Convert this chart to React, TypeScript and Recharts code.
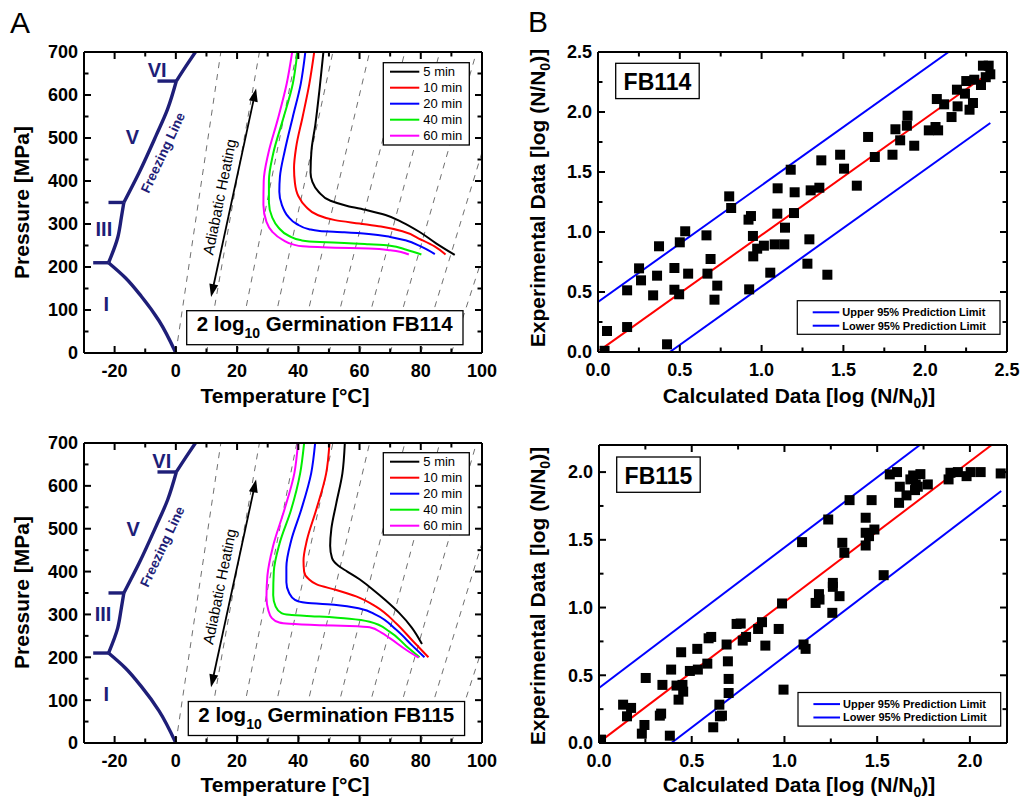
import React from 'react';
import { ComposedChart, Line, Scatter, XAxis, YAxis, ReferenceLine } from 'recharts';

const FONT = "'Liberation Sans', Arial, Helvetica, sans-serif";
const PAGE_W = 1021;
const PAGE_H = 799;
const NAVY = '#1e1e78';

type Pair = [number, number];
const toXY = (a: Pair[]) => a.map(([x, y]) => ({ x, y }));

// ---------------- Panel A (phase diagram) ----------------
const tempMajorTicks = [-20, 0, 20, 40, 60, 80, 100];
const tempMinorTicks = [-30, -10, 10, 30, 50, 70, 90];
const pressureMajorTicks = [0, 100, 200, 300, 400, 500, 600, 700];
const pressureMinorTicks = [50, 150, 250, 350, 450, 550, 650];

const holdTimes = ['5 min', '10 min', '20 min', '40 min', '60 min'];
const holdColors = ['#000000', '#ff0000', '#0000ff', '#00ee00', '#ff00ff'];

// FB114 isorate curves (temperature °C, pressure MPa)
const fb114_5min: Pair[] = [[48.2, 700], [46.9, 611], [45.6, 533], [44.3, 471], [44.0, 420], [44.6, 398], [46.6, 375], [50.5, 354], [56, 342], [62.5, 332], [68.5, 321], [74, 304], [79.5, 282], [85, 255], [91.1, 228]];
const fb114_10min: Pair[] = [[45.2, 700], [43.6, 626], [41.4, 549], [39.3, 479], [38.6, 430], [38.9, 395], [40, 365], [42.5, 340], [46, 322], [52, 309], [60, 301], [67, 294], [74, 283], [80, 264], [84.5, 248], [88.1, 229]];
const fb114_20min: Pair[] = [[42.3, 700], [40.8, 626], [38.2, 549], [35.6, 471], [34.0, 410], [33.8, 375], [34.6, 345], [36.6, 318], [39.5, 300], [43.5, 288], [47, 284], [55, 281], [63, 277], [70, 270], [75, 262], [80, 248], [84.6, 230]];
const fb114_40min: Pair[] = [[39.7, 700], [38.2, 626], [34.9, 541], [31.8, 464], [30.4, 400], [30.4, 350], [31.5, 315], [33.5, 292], [37, 272], [41, 262], [47, 258], [55, 256], [63, 253], [69.5, 250], [75.3, 240], [80.2, 229]];
const fb114_60min: Pair[] = [[38.0, 700], [36.2, 626], [33.2, 541], [30.2, 464], [28.7, 400], [28.6, 345], [29.6, 305], [31.5, 282], [34.9, 263], [38.5, 252], [41.4, 248], [52, 245], [63, 243], [70, 239], [76.1, 229]];

// FB115 isorate curves
const fb115_5min: Pair[] = [[55.2, 700], [54.4, 629], [52.4, 559], [50.8, 500], [50.4, 460], [51, 432], [53, 414], [56, 400], [60, 382], [64, 360], [68.5, 333], [73, 303], [77, 270], [80.4, 231]];
const fb115_10min: Pair[] = [[50.2, 700], [49.1, 629], [45.8, 543], [42.8, 473], [41.7, 425], [41.9, 400], [43.3, 383], [46, 370], [52.4, 357], [58.9, 342], [65.4, 318], [72, 279], [77.4, 238], [82.5, 200]];
const fb115_20min: Pair[] = [[45.5, 700], [44.2, 629], [40.9, 543], [37.7, 473], [36.1, 410], [36.1, 375], [37, 350], [38.9, 334], [42.5, 327], [52.4, 322], [60, 314], [65.4, 299], [72, 264], [77.4, 226], [81.2, 200]];
const fb115_40min: Pair[] = [[41.9, 700], [40.6, 629], [37.6, 543], [33.9, 466], [32, 400], [31.8, 345], [32.6, 318], [34.5, 303], [37.1, 299], [46.9, 295], [56.7, 290], [63.3, 283], [69.8, 260], [75.3, 226], [79.6, 200]];
const fb115_60min: Pair[] = [[39.9, 700], [38.7, 629], [35.4, 543], [31.7, 458], [29.9, 390], [29.6, 340], [30.2, 310], [31.3, 292], [33.8, 281], [37.1, 278], [46.9, 275], [56.7, 273], [63.3, 270], [67, 258], [70, 244], [75.3, 217], [79.3, 199]];

const fb114Curves = [fb114_5min, fb114_10min, fb114_20min, fb114_40min, fb114_60min];
const fb115Curves = [fb115_5min, fb115_10min, fb115_20min, fb115_40min, fb115_60min];

// adiabatic (dashed) lines: start temperature at 0 MPa, temperature reached at 700 MPa
const adiabatStartTemps = [0, 10, 20, 30, 40, 50, 60, 70, 80, 90];
const adiabatTopTemps = [14.7, 27.3, 39.5, 51.3, 63.3, 74.8, 86.2, 98.2, 110, 122];
const adiabatTopPressure = 700;

// freezing line segments
const iceI: Pair[] = [[0, 0], [-5.5, 75], [-11.3, 132], [-16.5, 175], [-21.985, 209.9]];
const iceIII: Pair[] = [[-21.985, 209.9], [-19, 268], [-17.8, 315], [-16.986, 350.1]];
const iceV: Pair[] = [[-16.986, 350.1], [-11.9, 421], [-6.5, 505], [-2.7, 567], [0.16, 632.4]];
const iceVI: Pair[] = [[0.16, 632.4], [3.3, 667], [6.4, 700]];
const triplePointTicks: Pair[][] = [
  [[-27, 209.9], [-21.985, 209.9]],
  [[-22, 350.1], [-16.986, 350.1]],
  [[-6, 632.4], [0.16, 632.4]],
];

const phaseNames = ['VI', 'V', 'III', 'I'];
const phaseLabelTempsTop = [-6.1, -14.2, -23.5, -22.7];
const phaseLabelPressTop = [657, 502, 289, 113];
const phaseLabelTempsBottom = [-4.6, -13.9, -23.8, -22.7];
const phaseLabelPressBottom = [658, 500, 300, 115];

const freezingLabelTop: Pair = [-4.2, 466];
const freezingLabelBottom: Pair = [-4.4, 458];
const adiabatLabelTop: Pair = [14.2, 363];
const adiabatLabelBottom: Pair = [14.2, 365];
const arrowEnds: Pair[] = [[11.5, 130], [26.2, 615]];

// ---------------- Panel B (calculated vs experimental) ----------------
const logMajorTicks114 = [0, 0.5, 1, 1.5, 2, 2.5];
const logMinorTicks114 = [0.25, 0.75, 1.25, 1.75, 2.25];
const logMajorTicks115 = [0, 0.5, 1, 1.5, 2];
const logMinorTicks115 = [0.25, 0.75, 1.25, 1.75];

const fb114Points: Pair[] = [[0.055, 0.175], [0.04, 0.01], [0.178, 0.208], [0.178, 0.514], [0.251, 0.697], [0.263, 0.597], [0.337, 0.472], [0.361, 0.636], [0.373, 0.881], [0.422, 0.064], [0.467, 0.7], [0.467, 0.519], [0.496, 0.481], [0.5, 0.914], [0.533, 1.006], [0.551, 0.653], [0.663, 0.972], [0.669, 0.653], [0.688, 0.775], [0.712, 0.436], [0.729, 0.553], [0.802, 1.297], [0.814, 1.2], [0.92, 1.103], [0.935, 1.133], [0.924, 0.522], [0.947, 0.967], [0.949, 0.797], [0.973, 0.861], [1.014, 0.886], [1.053, 0.661], [1.08, 0.897], [1.098, 1.364], [1.096, 1.153], [1.139, 0.897], [1.143, 1.036], [1.178, 1.519], [1.202, 1.331], [1.198, 1.158], [1.28, 0.736], [1.292, 0.939], [1.3, 1.347], [1.353, 1.369], [1.365, 1.597], [1.402, 0.644], [1.48, 1.644], [1.504, 1.528], [1.582, 1.386], [1.651, 1.792], [1.692, 1.625], [1.8, 1.644], [1.818, 1.856], [1.847, 1.764], [1.888, 1.886], [1.892, 1.969], [1.933, 1.719], [2.022, 1.847], [2.063, 1.875], [2.071, 2.108], [2.079, 1.847], [2.116, 2.064], [2.161, 1.958], [2.194, 2.186], [2.198, 2.047], [2.251, 2.258], [2.243, 2.153], [2.271, 2.019], [2.292, 2.075], [2.3, 2.269], [2.341, 2.225], [2.353, 2.386], [2.388, 2.386], [2.398, 2.314], [2.37, 2.29]];
const fb114Fit: Pair[] = [[0.01, 0.014], [2.398, 2.333]];
const fb114Upper: Pair[] = [[0, 0.417], [2.143, 2.5]];
const fb114Lower: Pair[] = [[0.439, 0], [2.398, 1.908]];

const fb115Points: Pair[] = [[0.011, 0.025], [0.13, 0.283], [0.173, 0.259], [0.151, 0.197], [0.231, 0.069], [0.245, 0.133], [0.252, 0.48], [0.328, 0.202], [0.335, 0.217], [0.342, 0.429], [0.382, 0.054], [0.389, 0.542], [0.418, 0.424], [0.443, 0.67], [0.429, 0.32], [0.45, 0.429], [0.454, 0.379], [0.49, 0.532], [0.53, 0.695], [0.533, 0.542], [0.584, 0.586], [0.591, 0.773], [0.605, 0.783], [0.616, 0.116], [0.649, 0.283], [0.652, 0.197], [0.663, 0.202], [0.688, 0.727], [0.695, 0.603], [0.699, 0.473], [0.699, 0.369], [0.742, 0.879], [0.764, 0.882], [0.775, 0.756], [0.793, 0.783], [0.858, 0.842], [0.879, 0.892], [0.897, 0.719], [0.969, 0.842], [0.987, 1.03], [0.995, 0.394], [1.095, 1.483], [1.103, 0.727], [1.114, 0.695], [1.168, 1.034], [1.186, 1.099], [1.189, 1.059], [1.236, 1.65], [1.258, 0.961], [1.261, 1.182], [1.261, 1.153], [1.297, 1.084], [1.312, 1.478], [1.323, 1.404], [1.351, 1.793], [1.438, 1.663], [1.438, 1.552], [1.438, 1.458], [1.456, 1.527], [1.47, 1.793], [1.485, 1.576], [1.535, 1.239], [1.568, 1.983], [1.607, 2.0], [1.622, 1.892], [1.618, 1.773], [1.658, 1.828], [1.679, 1.946], [1.694, 1.975], [1.704, 1.867], [1.708, 1.909], [1.719, 1.892], [1.733, 1.985], [1.773, 1.909], [1.885, 1.946], [1.895, 1.995], [1.935, 2.0], [1.982, 1.97], [2.004, 2.0], [2.058, 2.0], [2.166, 1.99]];
const fb115Fit: Pair[] = [[0.007, 0.012], [2.117, 2.2]];
const fb115Upper: Pair[] = [[0, 0.406], [1.73, 2.2]];
const fb115Lower: Pair[] = [[0.39, 0], [2.169, 1.86]];

const limitNames = ['Upper 95% Prediction Limit', 'Lower 95% Prediction Limit'];
const limitColor = '#0000ff';
const fitColor = '#ff0000';

// ---------------- layout ----------------
type Rect = { left: number; top: number; right: number; bottom: number };
const PLOT_A1: Rect = { left: 84, top: 52, right: 482, bottom: 353 };
const PLOT_A2: Rect = { left: 84, top: 443, right: 482, bottom: 743 };
const PLOT_B1: Rect = { left: 598, top: 52, right: 1007, bottom: 352 };
const PLOT_B2: Rect = { left: 599, top: 445, right: 1007, bottom: 743 };

const MAJOR_LEN = 7;
const MINOR_LEN = 4.5;

const makeLabelTick = (side: 'bottom' | 'left', fmt: (v: number) => string) => (props: any) => {
  const x = Number(props.x);
  const y = Number(props.y);
  const v = Number(props.payload?.value);
  if (side === 'bottom') {
    return (
      <text x={x} y={y + 24} textAnchor="middle" fontFamily={FONT} fontWeight="bold" fontSize={18} fill="#000">
        {fmt(v)}
      </text>
    );
  }
  return (
    <text x={x - 6} y={y + 6.4} textAnchor="end" fontFamily={FONT} fontWeight="bold" fontSize={18} fill="#000">
      {fmt(v)}
    </text>
  );
};

const axisLine = { stroke: '#000', strokeWidth: 2 };

const chartMargin = (p: Rect) => ({
  top: p.top - 1,
  left: p.left - 1,
  right: PAGE_W - p.right - 1,
  bottom: PAGE_H - p.bottom - 1,
});

function renderAxes(xDomain: [number, number], yDomain: [number, number], xMaj: number[], yMaj: number[], xFmt: (v: number) => string, yFmt: (v: number) => string) {
  return [
    <XAxis key="xb" xAxisId={0} orientation="bottom" type="number" dataKey="x" domain={xDomain} allowDataOverflow ticks={xMaj} interval={0} tickSize={0} tickMargin={0} height={1} axisLine={axisLine} tickLine={false} tick={makeLabelTick('bottom', xFmt)} />,
    <XAxis key="xt" xAxisId="top" orientation="top" type="number" domain={xDomain} allowDataOverflow ticks={xMaj} interval={0} tickSize={0} tickMargin={0} height={1} axisLine={axisLine} tickLine={false} tick={false} />,
    <YAxis key="yl" yAxisId={0} orientation="left" type="number" dataKey="y" domain={yDomain} allowDataOverflow ticks={yMaj} interval={0} tickSize={0} tickMargin={0} width={1} axisLine={axisLine} tickLine={false} tick={makeLabelTick('left', yFmt)} />,
    <YAxis key="yr" yAxisId="right" orientation="right" type="number" domain={yDomain} allowDataOverflow ticks={yMaj} interval={0} tickSize={0} tickMargin={0} width={1} axisLine={axisLine} tickLine={false} tick={false} />,
  ];
}

const ArrowShape = (props: any) => {
  const x1 = Number(props.x1), y1 = Number(props.y1), x2 = Number(props.x2), y2 = Number(props.y2);
  const dx = x2 - x1, dy = y2 - y1;
  const L = Math.hypot(dx, dy) || 1;
  const ux = dx / L, uy = dy / L;
  const px = -uy, py = ux;
  const hl = 13, hw = 4.5;
  const head = (tx: number, ty: number, dir: number) => {
    const bx = tx - dir * ux * hl, by = ty - dir * uy * hl;
    return `${tx},${ty} ${bx + px * hw},${by + py * hw} ${bx - px * hw},${by - py * hw}`;
  };
  return (
    <g>
      <line x1={x1 + ux * 8} y1={y1 + uy * 8} x2={x2 - ux * 8} y2={y2 - uy * 8} stroke="#000" strokeWidth={1.8} />
      <polygon points={head(x1, y1, -1)} fill="#000" />
      <polygon points={head(x2, y2, 1)} fill="#000" />
    </g>
  );
};

const rotatedText = (text: string, angle: number, size: number, color: string, weight: string) => (props: any) => {
  const cx = Number(props.cx), cy = Number(props.cy);
  return (
    <text x={cx} y={cy} transform={`rotate(${angle} ${cx} ${cy})`} textAnchor="middle" dominantBaseline="central" fontFamily={FONT} fontSize={size} fontWeight={weight} fill={color}>
      {text}
    </text>
  );
};

const PhaseLabelShape = (props: any) => {
  const cx = Number(props.cx), cy = Number(props.cy);
  const t = props.payload?.text ?? props.text;
  return (
    <text x={cx} y={cy} textAnchor="middle" dominantBaseline="central" fontFamily={FONT} fontSize={20} fontWeight="bold" fill={NAVY}>
      {t}
    </text>
  );
};

function PhasePanel({ plot, curves, labelTemps, labelPress, freezing, adiabat }: { plot: Rect; curves: Pair[][]; labelTemps: number[]; labelPress: number[]; freezing: Pair; adiabat: Pair }) {
  const labels = phaseNames.map((text, i) => ({ x: labelTemps[i], y: labelPress[i], text }));
  return (
    <div style={{ position: 'absolute', left: 0, top: 0 }}>
      <ComposedChart width={PAGE_W} height={PAGE_H} margin={chartMargin(plot)}>
        {renderAxes([-30, 100], [0, 700], tempMajorTicks, pressureMajorTicks, (v) => String(v), (v) => String(v))}
        {adiabatStartTemps.map((t0, i) => (
          <Line key={`ad${i}`} data={[{ x: t0, y: 0 }, { x: adiabatTopTemps[i], y: adiabatTopPressure }]} dataKey="y" type="linear" stroke="#707070" strokeWidth={1} strokeDasharray="6 6" dot={false} isAnimationActive={false} />
        ))}
        {[iceI, iceIII, iceV, iceVI].map((seg, i) => (
          <Line key={`ice${i}`} data={toXY(seg)} dataKey="y" type="monotoneY" stroke={NAVY} strokeWidth={3.4} dot={false} isAnimationActive={false} />
        ))}
        {triplePointTicks.map((seg, i) => (
          <Line key={`tp${i}`} data={toXY(seg)} dataKey="y" type="linear" stroke={NAVY} strokeWidth={3.4} dot={false} isAnimationActive={false} />
        ))}
        {curves.map((c, i) => (
          <Line key={`c${i}`} name={holdTimes[i]} data={toXY(c)} dataKey="y" type="monotoneY" stroke={holdColors[i]} strokeWidth={2} dot={false} isAnimationActive={false} />
        ))}
        <Scatter data={labels} shape={PhaseLabelShape} isAnimationActive={false} />
        <Scatter data={[{ x: freezing[0], y: freezing[1] }]} shape={rotatedText('Freezing Line', -65, 13.5, NAVY, 'bold')} isAnimationActive={false} />
        <Scatter data={[{ x: adiabat[0], y: adiabat[1] }]} shape={rotatedText('Adiabatic Heating', -78.5, 15, '#000', 'normal')} isAnimationActive={false} />
        <ReferenceLine segment={[{ x: arrowEnds[0][0], y: arrowEnds[0][1] }, { x: arrowEnds[1][0], y: arrowEnds[1][1] }]} ifOverflow="visible" shape={ArrowShape} />
      </ComposedChart>
    </div>
  );
}

const SquareShape = (props: any) => {
  const cx = Number(props.cx), cy = Number(props.cy);
  return <rect x={cx - 5} y={cy - 5} width={10} height={10} fill="#000" />;
};

function FitPanel({ plot, max, xMaj, points, fit, upper, lower }: { plot: Rect; max: number; xMaj: number[]; points: Pair[]; fit: Pair[]; upper: Pair[]; lower: Pair[] }) {
  const f = (v: number) => v.toFixed(1);
  return (
    <div style={{ position: 'absolute', left: 0, top: 0 }}>
      <ComposedChart width={PAGE_W} height={PAGE_H} margin={chartMargin(plot)}>
        {renderAxes([0, max], [0, max], xMaj, xMaj, f, f)}
        <Line data={toXY(upper)} dataKey="y" type="linear" stroke={limitColor} strokeWidth={2} dot={false} isAnimationActive={false} />
        <Line data={toXY(lower)} dataKey="y" type="linear" stroke={limitColor} strokeWidth={2} dot={false} isAnimationActive={false} />
        <Line data={toXY(fit)} dataKey="y" type="linear" stroke={fitColor} strokeWidth={2} dot={false} isAnimationActive={false} />
        <Scatter data={toXY(points)} shape={SquareShape} isAnimationActive={false} />
      </ComposedChart>
    </div>
  );
}

// inward tick marks on all four frame edges (same linear mapping as the chart's plot area)
function FrameTicks({ plot, xDom, yDom, xMaj, xMin, yMaj, yMin }: { plot: Rect; xDom: [number, number]; yDom: [number, number]; xMaj: number[]; xMin: number[]; yMaj: number[]; yMin: number[] }) {
  const sx = (v: number) => plot.left + ((v - xDom[0]) / (xDom[1] - xDom[0])) * (plot.right - plot.left);
  const sy = (v: number) => plot.bottom - ((v - yDom[0]) / (yDom[1] - yDom[0])) * (plot.bottom - plot.top);
  const els: React.ReactNode[] = [];
  const addX = (vals: number[], len: number, tag: string) => vals.forEach((v) => {
    const x = sx(v);
    els.push(<line key={`${tag}b${v}`} x1={x} x2={x} y1={plot.bottom} y2={plot.bottom - len} stroke="#000" strokeWidth={2} />);
    els.push(<line key={`${tag}t${v}`} x1={x} x2={x} y1={plot.top} y2={plot.top + len} stroke="#000" strokeWidth={2} />);
  });
  const addY = (vals: number[], len: number, tag: string) => vals.forEach((v) => {
    const y = sy(v);
    els.push(<line key={`${tag}l${v}`} x1={plot.left} x2={plot.left + len} y1={y} y2={y} stroke="#000" strokeWidth={2} />);
    els.push(<line key={`${tag}r${v}`} x1={plot.right} x2={plot.right - len} y1={y} y2={y} stroke="#000" strokeWidth={2} />);
  });
  addX(xMaj, MAJOR_LEN, 'M');
  addX(xMin, MINOR_LEN, 'm');
  addY(yMaj, MAJOR_LEN, 'M');
  addY(yMin, MINOR_LEN, 'm');
  return <g>{els}</g>;
}

function HoldLegend({ x, y }: { x: number; y: number }) {
  return (
    <g>
      <rect x={x} y={y} width={86} height={82.3} fill="#fff" stroke="#000" strokeWidth={1.3} />
      {holdTimes.map((name, i) => (
        <g key={name}>
          <line x1={x + 6.7} x2={x + 36} y1={y + 9 + 16 * i} y2={y + 9 + 16 * i} stroke={holdColors[i]} strokeWidth={2} />
          <text x={x + 40} y={y + 13.6 + 16 * i} fontFamily={FONT} fontSize={13} fill="#000">{name}</text>
        </g>
      ))}
    </g>
  );
}

function LimitLegend({ x, y }: { x: number; y: number }) {
  return (
    <g>
      <rect x={x} y={y} width={202.7} height={33.6} fill="#fff" stroke="#000" strokeWidth={1.2} />
      {limitNames.map((name, i) => (
        <g key={name}>
          <line x1={x + 15.4} x2={x + 42} y1={y + 11.6 + 13.4 * i} y2={y + 11.6 + 13.4 * i} stroke={limitColor} strokeWidth={2} />
          <text x={x + 45} y={y + 15.4 + 13.4 * i} fontFamily={FONT} fontSize={11} fontWeight="bold" fill="#000">{name}</text>
        </g>
      ))}
    </g>
  );
}

function GermBox({ x, y, strain }: { x: number; y: number; strain: string }) {
  return (
    <g>
      <rect x={x} y={y} width={276.3} height={34} fill="#fff" stroke="#000" strokeWidth={1.3} />
      <text x={x + 10} y={y + 20.3} fontFamily={FONT} fontSize={20.5} fontWeight="bold" fill="#000">
        2 log<tspan dy={7} fontSize={14}>10</tspan><tspan dy={-7}>{` Germination ${strain}`}</tspan>
      </text>
    </g>
  );
}

function StrainBox({ x, y, strain }: { x: number; y: number; strain: string }) {
  return (
    <g>
      <rect x={x} y={y} width={83.5} height={35.3} fill="#fff" stroke="#000" strokeWidth={1.3} />
      <text x={x + 41.8} y={y + 26.5} textAnchor="middle" fontFamily={FONT} fontSize={23} fontWeight="bold" fill="#000">{strain}</text>
    </g>
  );
}

const NSub = () => (
  <>
    N/N<tspan dy={5} fontSize={14}>0</tspan><tspan dy={-5}>)]</tspan>
  </>
);

function Overlay() {
  const title = { fontFamily: FONT, fontSize: 21, fontWeight: 'bold' as const, fill: '#000' };
  return (
    <svg width={PAGE_W} height={PAGE_H} style={{ position: 'absolute', left: 0, top: 0 }}>
      <FrameTicks plot={PLOT_A1} xDom={[-30, 100]} yDom={[0, 700]} xMaj={tempMajorTicks} xMin={tempMinorTicks} yMaj={pressureMajorTicks} yMin={pressureMinorTicks} />
      <FrameTicks plot={PLOT_A2} xDom={[-30, 100]} yDom={[0, 700]} xMaj={tempMajorTicks} xMin={tempMinorTicks} yMaj={pressureMajorTicks} yMin={pressureMinorTicks} />
      <FrameTicks plot={PLOT_B1} xDom={[0, 2.5]} yDom={[0, 2.5]} xMaj={logMajorTicks114} xMin={logMinorTicks114} yMaj={logMajorTicks114} yMin={logMinorTicks114} />
      <FrameTicks plot={PLOT_B2} xDom={[0, 2.2]} yDom={[0, 2.2]} xMaj={logMajorTicks115} xMin={logMinorTicks115} yMaj={logMajorTicks115} yMin={logMinorTicks115} />

      <text x={10} y={33} fontFamily={FONT} fontSize={30} fill="#000">A</text>
      <text x={528} y={32} fontFamily={FONT} fontSize={30} fill="#000">B</text>

      <text x={29} y={202.5} transform="rotate(-90 29 202.5)" textAnchor="middle" {...title}>Pressure [MPa]</text>
      <text x={29} y={592.5} transform="rotate(-90 29 592.5)" textAnchor="middle" {...title}>Pressure [MPa]</text>
      <text x={285} y={403} textAnchor="middle" {...title}>Temperature [°C]</text>
      <text x={285} y={792} textAnchor="middle" {...title}>Temperature [°C]</text>

      <text x={545} y={198} transform="rotate(-90 545 198)" textAnchor="middle" {...title}>Experimental Data [log (<NSub /></text>
      <text x={545} y={596} transform="rotate(-90 545 596)" textAnchor="middle" {...title}>Experimental Data [log (<NSub /></text>
      <text x={799} y={403} textAnchor="middle" {...title}>Calculated Data [log (<NSub /></text>
      <text x={799} y={792} textAnchor="middle" {...title}>Calculated Data [log (<NSub /></text>

      <HoldLegend x={383.3} y={62.7} />
      <HoldLegend x={383.3} y={452.7} />
      <GermBox x={186.7} y={310.7} strain="FB114" />
      <GermBox x={188.3} y={701.5} strain="FB115" />

      <LimitLegend x={797.3} y={300.7} />
      <LimitLegend x={798} y={692.5} />
      <StrainBox x={615.7} y={63.3} strain="FB114" />
      <StrainBox x={616.7} y={457} strain="FB115" />
    </svg>
  );
}

export default function App() {
  return (
    <div style={{ position: 'absolute', left: 0, top: 0, width: PAGE_W, height: PAGE_H, background: '#fff', overflow: 'hidden', fontFamily: FONT }}>
      <PhasePanel plot={PLOT_A1} curves={fb114Curves} labelTemps={phaseLabelTempsTop} labelPress={phaseLabelPressTop} freezing={freezingLabelTop} adiabat={adiabatLabelTop} />
      <PhasePanel plot={PLOT_A2} curves={fb115Curves} labelTemps={phaseLabelTempsBottom} labelPress={phaseLabelPressBottom} freezing={freezingLabelBottom} adiabat={adiabatLabelBottom} />
      <FitPanel plot={PLOT_B1} max={2.5} xMaj={logMajorTicks114} points={fb114Points} fit={fb114Fit} upper={fb114Upper} lower={fb114Lower} />
      <FitPanel plot={PLOT_B2} max={2.2} xMaj={logMajorTicks115} points={fb115Points} fit={fb115Fit} upper={fb115Upper} lower={fb115Lower} />
      <Overlay />
    </div>
  );
}
